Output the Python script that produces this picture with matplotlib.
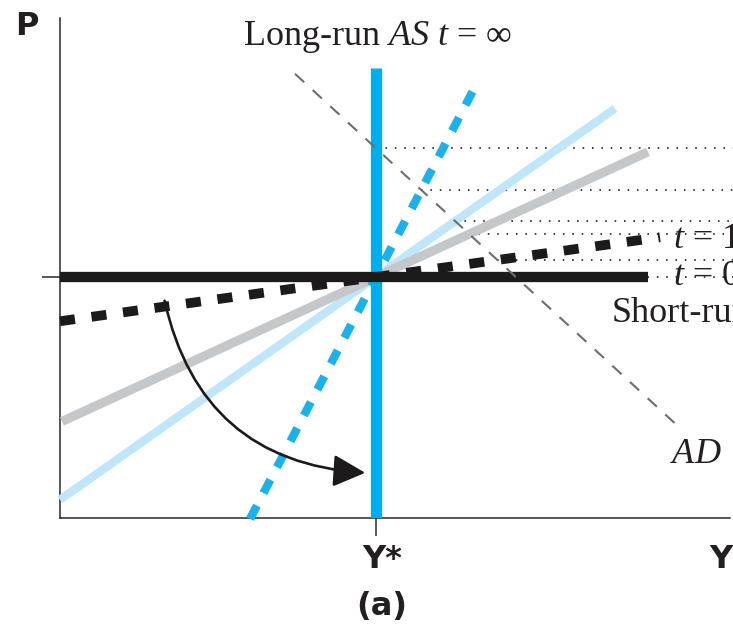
import matplotlib
matplotlib.use('Agg')

import numpy as np
import matplotlib.pyplot as plt
from matplotlib.patches import FancyArrowPatch

plt.rcParams['mathtext.fontset'] = 'custom'
plt.rcParams['mathtext.rm'] = 'Liberation Serif'
plt.rcParams['mathtext.it'] = 'Liberation Serif:italic'

# long-run equilibrium (output, price level)
y_star = 316
p_star = 241

# short-run AS curves pivoting around the equilibrium, t = 0, 1, 2, 3, 4
sras_slopes = [0.0, 0.14, 0.46, 0.705, 1.92]
sras_y_from = [0, 0, 2, 0, 190]
sras_y_to = [588, 600, 588, 555, 416]

# long-run AS (vertical at y_star)
lras_top = 450

# aggregate demand  P = ad_intercept + ad_slope * Y
ad_intercept = 660.4
ad_slope = -0.92
ad_y_range = [235, 620]

# curved arrow showing the rotation over time
arrow_from = [104, 220]
arrow_to = [308, 45]

X_MAX, P_MAX = 673, 500

sras_styles = [
    dict(color='#1c1a1b', lw=7.4, ls='-', zorder=6, solid_capstyle='butt'),
    dict(color='#1c1a1b', lw=7.0, ls=(0, (1.55, 1.72)), zorder=6, dash_capstyle='butt'),
    dict(color='#c5c8ca', lw=6.6, ls='-', zorder=4, solid_capstyle='butt'),
    dict(color='#bfe6fa', lw=6.0, ls='-', zorder=3, solid_capstyle='butt'),
    dict(color='#19b2ec', lw=6.0, ls=(0, (1.8, 1.7)), zorder=4, dash_capstyle='butt'),
]

fig = plt.figure(figsize=(7.33, 6.3), dpi=100)
ax = fig.add_axes([60 / 733, 112 / 630, 673 / 733, 500 / 630])
ax.set_xlim(0, X_MAX)
ax.set_ylim(0, P_MAX)

for side in ('top', 'right'):
    ax.spines[side].set_visible(False)
for side in ('left', 'bottom'):
    ax.spines[side].set_linewidth(1.1)
    ax.spines[side].set_color('#2a2a2a')
ax.spines['bottom'].set_bounds(0, 670)

ax.set_xticks([y_star])
ax.set_yticks([p_star])
ax.set_xticklabels([])
ax.set_yticklabels([])
ax.tick_params(length=13, width=1.1, color='#2a2a2a', direction='out')

# short-run AS lines and where AD crosses them
for slope, y0, y1, style in zip(sras_slopes, sras_y_from, sras_y_to, sras_styles):
    yy = np.array([y0, y1], dtype=float)
    pp = p_star + slope * (yy - y_star)
    ax.plot(yy, pp, clip_on=False, **style)

    yc = (ad_intercept - p_star + slope * y_star) / (slope - ad_slope)
    pc = p_star + slope * (yc - y_star)
    ax.plot([yc, X_MAX], [pc, pc], color='#333333', lw=1.3,
            ls=(0, (0.9, 4.3)), zorder=2, clip_on=False)

# long-run AS
ax.plot([y_star, y_star], [0, lras_top], color='#00aeef', lw=8.0,
        solid_capstyle='butt', zorder=5)
pc = ad_intercept + ad_slope * y_star
ax.plot([y_star, X_MAX], [pc, pc], color='#333333', lw=1.3,
        ls=(0, (0.9, 4.3)), zorder=2, clip_on=False)

# aggregate demand
ad_y = np.array(ad_y_range, dtype=float)
ax.plot(ad_y, ad_intercept + ad_slope * ad_y, color='#6e6e6e', lw=1.5,
        ls=(0, (6, 5.5)), zorder=7)

arrow = FancyArrowPatch(arrow_from, arrow_to, connectionstyle='arc3,rad=0.38',
                        arrowstyle='-|>,head_length=1.1,head_width=0.55',
                        mutation_scale=18, color='#1c1a1b', lw=1.9, zorder=8)
ax.add_patch(arrow)

# labels on the right run off the edge of the panel
serif = dict(family='Liberation Serif', fontsize=26, color='#231f20')
ax.text(183, 473, r'Long-run $AS\ t$ = ∞', ha='left', va='baseline',
        clip_on=False, **serif)
ax.text(613, 270, r'$t$ = 1', ha='left', va='baseline', clip_on=False, **serif)
ax.text(613, 233, r'$t$ = 0', ha='left', va='baseline', clip_on=False, **serif)
ax.text(552, 196, 'Short-run', ha='left', va='baseline', clip_on=False, **serif)
ax.text(610, 55, r'$AD$', ha='left', va='baseline', clip_on=False, **serif)

bold = dict(family='DejaVu Sans', fontweight='bold', fontsize=23, color='#231f20')
ax.text(-45, 483, 'P', ha='left', va='baseline', clip_on=False, **bold)
ax.text(302, -50, 'Y*', ha='left', va='baseline', clip_on=False, **bold)
ax.text(673, -50, 'Y', ha='right', va='baseline', clip_on=False, **bold)
ax.text(322, -89, '(a)', ha='center', va='center', clip_on=False, **bold)

fig.savefig('out.png', dpi=100)
